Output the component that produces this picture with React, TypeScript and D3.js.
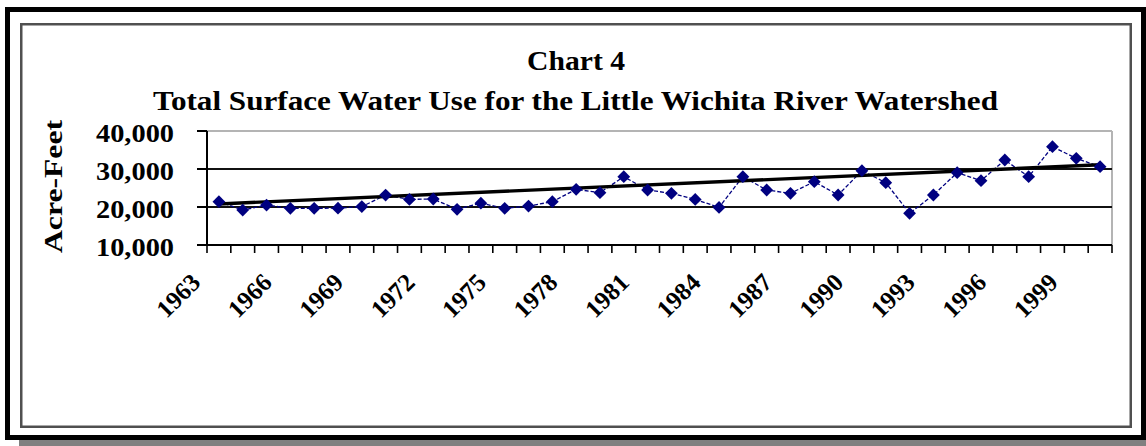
import React from 'react';
import * as d3 from 'd3';

const years = d3.range(1963, 2001).map(String);
const acreFeet = [
  21400, 19200, 20500, 19650, 19650, 19700, 20100, 23150, 22000, 22100,
  19400, 21000, 19650, 20250, 21400, 24650, 23770, 27970, 24470, 23600,
  22000, 19900, 27970, 24470, 23600, 26660, 23160, 29550, 26400, 18330,
  23160, 29030, 26930, 32370, 27970, 35870, 32810, 30600,
];
// linear trend as drawn in the picture (first year, last year)
const trendEnds = [20800, 31100];
const yTicks = [10000, 20000, 30000, 40000];
const gridValues = [20000, 30000];
const yearLabels = years.filter((_, i) => i % 3 === 0 && i < 37);

const W = 1146;
const H = 446;
const serif = '"Liberation Serif", "Times New Roman", serif';

export default function App() {
  const plot = { left: 207, right: 1112, top: 131, bottom: 245 };

  const x = d3.scaleBand<string>().domain(years).range([plot.left, plot.right]).padding(0);
  const cx = (yr: string) => (x(yr) as number) + x.bandwidth() / 2;
  const y = d3.scaleLinear().domain([10000, 40000]).range([plot.bottom, plot.top]);

  const line = d3.line<number>()
    .x((_, i) => cx(years[i]))
    .y((v) => y(v));

  const diamond = d3.symbol().type(d3.symbolSquare).size(82)();
  const fmt = d3.format(',');

  const firstYear = years[0];
  const lastYear = years[years.length - 1];

  return (
    <div style={{ position: 'fixed', left: 0, top: 0 }}>
      <svg width={W} height={H} style={{ display: 'block', background: '#fff' }}>
        {/* outer frame + shadow */}
        <rect x={19} y={440} width={W - 19} height={6} fill="#808080" />
        <rect x={7.5} y={9.5} width={1136} height={428} fill="#fff" stroke="#000" strokeWidth={5} />
        <rect x={21.25} y={24.25} width={1109.5} height={402.5} fill="#fff" stroke="#505050" strokeWidth={2.5} />

        {/* titles */}
        <text x={576} y={70} textAnchor="middle" fontFamily={serif} fontWeight="bold" fontSize={28}
          textLength={98} lengthAdjust="spacingAndGlyphs">Chart 4</text>
        <text x={575.5} y={110} textAnchor="middle" fontFamily={serif} fontWeight="bold" fontSize={28}
          textLength={845} lengthAdjust="spacingAndGlyphs">Total Surface Water Use for the Little Wichita River Watershed</text>

        {/* plot border: top and right in grey */}
        <line x1={plot.left} x2={plot.right} y1={plot.top} y2={plot.top} stroke="#b4b4b4" strokeWidth={2} />
        <line x1={plot.right} x2={plot.right} y1={plot.top} y2={plot.bottom} stroke="#b4b4b4" strokeWidth={2} />

        {/* gridlines */}
        {gridValues.map((v) => (
          <line key={v} x1={plot.left} x2={plot.right} y1={y(v)} y2={y(v)} stroke="#111" strokeWidth={1.8} />
        ))}

        {/* y axis */}
        <line x1={plot.left} x2={plot.left} y1={plot.top} y2={plot.bottom} stroke="#000" strokeWidth={2} />
        {yTicks.map((v) => (
          <g key={v}>
            <line x1={plot.left - 10} x2={plot.left} y1={y(v)} y2={y(v)} stroke="#000" strokeWidth={2} />
            <text x={174} y={y(v) + 10.5} textAnchor="end" fontFamily={serif} fontWeight="bold" fontSize={25}
              textLength={78} lengthAdjust="spacingAndGlyphs">{fmt(v)}</text>
          </g>
        ))}
        <text transform="translate(62,186.5) rotate(-90)" textAnchor="middle" fontFamily={serif} fontWeight="bold"
          fontSize={26} textLength={133} lengthAdjust="spacingAndGlyphs">Acre-Feet</text>

        {/* x axis */}
        <line x1={plot.left - 10} x2={plot.right} y1={plot.bottom} y2={plot.bottom} stroke="#000" strokeWidth={2} />
        {years.concat(['end']).map((yr, i) => {
          const xx = i < years.length ? (x(yr) as number) : plot.right;
          return <line key={'t' + i} x1={xx} x2={xx} y1={plot.bottom} y2={plot.bottom + 8} stroke="#000" strokeWidth={1.6} />;
        })}
        {yearLabels.map((yr) => (
          <text key={yr} transform={`translate(${cx(yr) - 17},284) rotate(-45)`} textAnchor="end"
            fontFamily={serif} fontWeight="bold" fontSize={25}>{yr}</text>
        ))}

        {/* data line */}
        <path d={line(acreFeet) || ''} fill="none" stroke="#000080" strokeWidth={1.3} strokeDasharray="4,2" />

        {/* trend */}
        <line x1={cx(firstYear)} x2={cx(lastYear)} y1={y(trendEnds[0])} y2={y(trendEnds[1])}
          stroke="#000" strokeWidth={3.4} />

        {/* markers */}
        {acreFeet.map((v, i) => (
          <path key={years[i]} d={diamond || ''} fill="#000080"
            transform={`translate(${cx(years[i])},${y(v)}) rotate(45)`} />
        ))}
      </svg>
    </div>
  );
}
